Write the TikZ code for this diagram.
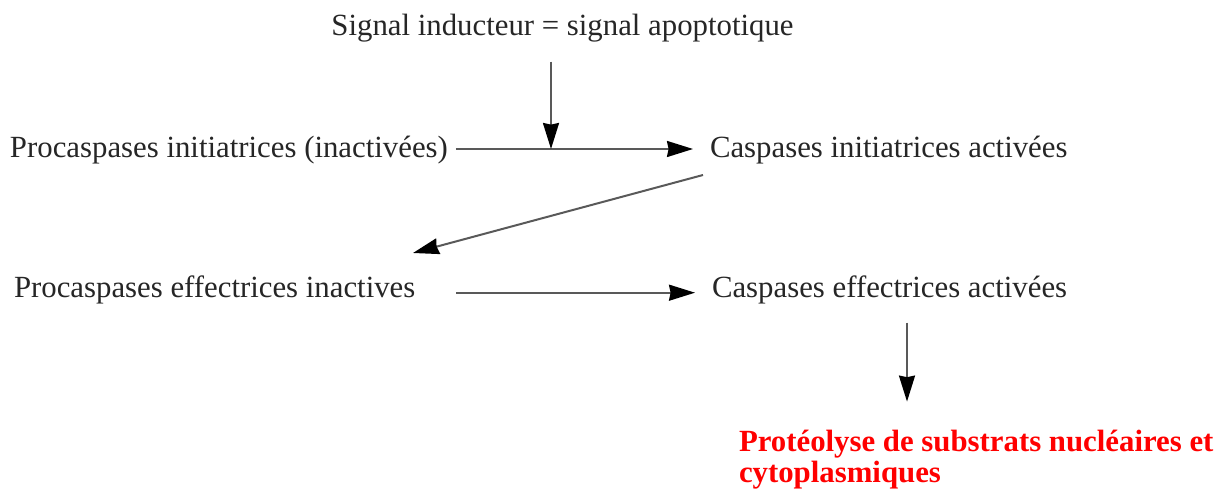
\documentclass[tikz,border=0pt]{standalone}
\usepackage{fontspec}
\setmainfont{Liberation Serif}
\usetikzlibrary{arrows.meta,calc}
\tikzset{
  lbl/.style={inner sep=0pt, outer sep=0pt, text=black!85, font=\fontsize{15.4}{15.5}\selectfont},
  redlbl/.style={inner sep=0pt, outer sep=0pt, text=red, align=left, font=\fontsize{15.4}{15.5}\selectfont\bfseries},
  arr/.style={draw=black!65, line width=1pt, -{Stealth[length=13pt,width=8pt,inset=0.8pt,color=black,fill=black]}}
}
\begin{document}
\begin{tikzpicture}[x=0.5pt,y=-0.5pt]
\useasboundingbox (0,0) rectangle (1220,491);
\node[lbl, anchor=base] (sig) at (562.5,36) {Signal inducteur = signal apoptotique};
\node[lbl, anchor=base west] (pi) at (10,158) {Procaspases initiatrices (inactivées)};
\node[lbl, anchor=base west] (ci) at (710,158) {Caspases initiatrices activées};
\node[lbl, anchor=base west] (pe) at (14,298) {Procaspases effectrices inactives};
\node[lbl, anchor=base west] (ce) at (712,298) {Caspases effectrices activées};
\node[redlbl, anchor=base west] (pr) at (739,482) {Protéolyse de substrats nucléaires et\\[0pt]cytoplasmiques};
\coordinate (j) at (551,149);
\coordinate (r2) at (0,292.7);
\coordinate (v) at (907,0);
\coordinate (d1) at (703,175);
\coordinate (d2) at (413,253);
\draw[arr, shorten <=4pt, shorten >=8.5pt] (pi.east |- j) -- (ci.west |- j);
\draw[arr, shorten <=9.5pt] (sig.south -| j) -- (j);
\draw[arr] (d1) -- (d2);
\draw[arr, shorten <=20.5pt, shorten >=8.5pt] (pe.east |- r2) -- (ce.west |- r2);
\draw[arr, shorten <=9pt, shorten >=14pt] (ce.south -| v) -- (pr.north -| v);
\end{tikzpicture}
\end{document}
